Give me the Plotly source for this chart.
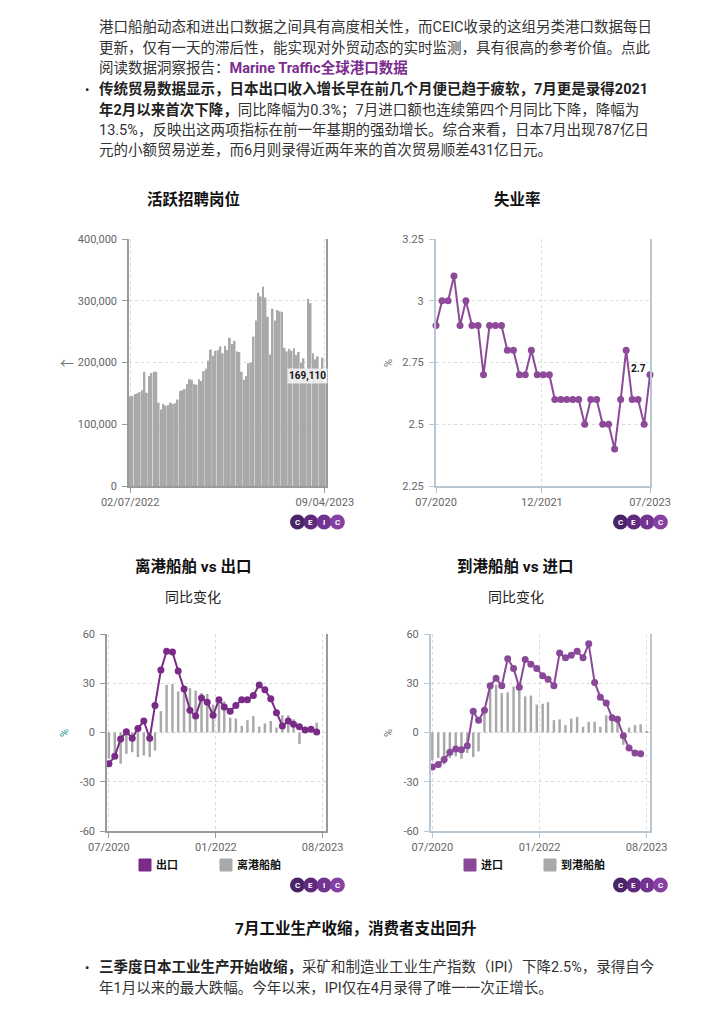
import plotly.graph_objects as go
import pandas as pd

W, H = 724, 1024


def px(x):
    return x / W


def py(y):
    return 1 - y / H


# ---------------- data ----------------
job_weeks = pd.date_range("2022-02-07", periods=83, freq="7D")
job_postings = [
    145000, 146000, 149000, 150000, 152000, 155000, 185000, 151000, 178000, 183000,
    185000, 185000, 135000, 124000, 133000, 130000, 131000, 135000, 133000, 134000,
    140000, 154000, 155000, 157000, 165000, 173000, 172000, 165000, 164000, 173000,
    170000, 186000, 190000, 203000, 221000, 211000, 219000, 220000, 226000, 215000,
    227000, 220000, 240000, 230000, 235000, 218000, 217000, 185000, 172000, 178000,
    199000, 200000, 242000, 268000, 313000, 307000, 323000, 305000, 274000, 213000,
    287000, 268000, 285000, 283000, 282000, 224000, 218000, 222000, 219000, 223000,
    212000, 217000, 200000, 207000, 190000, 303000, 296000, 215000, 205000, 210000,
    190000, 208000, 169110,
]
job_ticks = ["02/07/2022", "09/04/2023"]

months = pd.date_range("2020-07-01", periods=37, freq="MS")
months_ext = pd.date_range("2020-07-01", periods=38, freq="MS")
unemployment = [
    2.9, 3.0, 3.0, 3.1, 2.9, 3.0, 2.9, 2.9, 2.7, 2.9, 2.9, 2.9, 2.8, 2.8, 2.7, 2.7,
    2.8, 2.7, 2.7, 2.7, 2.6, 2.6, 2.6, 2.6, 2.6, 2.5, 2.6, 2.6, 2.5, 2.5, 2.4, 2.6,
    2.8, 2.6, 2.6, 2.5, 2.7,
]
unemp_ticks = ["07/2020", "12/2021", "07/2023"]

exports = [
    -19, -14.5, -4, 0.5, -3.5, 2.5, 7, -3.5, 16.5, 38, 49.5, 49, 37.5, 26.5, 13.5,
    10, 21, 18.5, 10.5, 20, 15.5, 13, 16.5, 20, 20, 22.5, 29, 26, 20.5, 12, 4, 7,
    5, 3.5, 1.5, 2, 0.3,
]
departures = [
    -16, -15, -19, -13, -12, -15, -14, -15, -11, 13, 29, 29.5, 25, 26, 27, 25.5,
    24, 23.5, 17, 20, 19, 9, 8.5, 4, 7.5, 10, 3.5, 5.5, 7, 3, 10.5, 10.5, 8, -7,
    3.5, 3.5, 6,
]
imports = [
    -21, -19.5, -16.5, -12, -10, -10.5, -8, 13, 7.5, 13.5, 28.5, 33, 28.5, 45, 39,
    27.5, 44.5, 41.5, 39, 34.5, 32.5, 28.5, 48.5, 45.5, 47, 49.5, 45.5, 54, 30.5,
    21.5, 18, 9, 8, -2, -9.5, -12.5, -13,
]
arrivals = [
    -17, -15.5, -19.5, -15.5, -14.5, -16, -12.5, -15, -11.5, 12, 26.5, 29, 24, 24.5,
    28, 26, 22, 22.5, 17, 17.5, 18.5, 7.5, 8, 4.5, 8.5, 9.5, 3.5, 6.5, 6.5, 3.5,
    10.5, 10, 9, -7.5, 3, 4.5, 5, 0.7,
]
trade_ticks = ["07/2020", "01/2022", "08/2023"]

# ---------------- styles ----------------
FONT = "Roboto, 'Noto Sans CJK SC', sans-serif"
TEXT = "#333333"
BODY = 14.5
GREY_BAR = "#a9a9a9"
PURPLE_U = "#8c4a98"
PURPLE_X = "#7a2a87"
PURPLE_M = "#8a4899"
DAY = 86400000

fig = go.Figure()

fig.add_trace(go.Bar(x=job_weeks, y=job_postings, xaxis="x", yaxis="y",
                     marker=dict(color=GREY_BAR, line=dict(width=0)),
                     width=DAY * 7 * 0.78, showlegend=False))
fig.add_trace(go.Scatter(x=months, y=unemployment, xaxis="x2", yaxis="y2",
                         mode="lines+markers", cliponaxis=False,
                         line=dict(color=PURPLE_U, width=2),
                         marker=dict(color=PURPLE_U, size=7), showlegend=False))
fig.add_trace(go.Bar(x=months, y=departures, xaxis="x3", yaxis="y3",
                     marker=dict(color=GREY_BAR, line=dict(width=0)),
                     width=DAY * 13, showlegend=False))
fig.add_trace(go.Scatter(x=months, y=exports, xaxis="x3", yaxis="y3",
                         mode="lines+markers", cliponaxis=False,
                         line=dict(color=PURPLE_X, width=2),
                         marker=dict(color=PURPLE_X, size=7), showlegend=False))
fig.add_trace(go.Bar(x=months_ext, y=arrivals, xaxis="x4", yaxis="y4",
                     marker=dict(color=GREY_BAR, line=dict(width=0)),
                     width=DAY * 13, showlegend=False))
fig.add_trace(go.Scatter(x=months, y=imports, xaxis="x4", yaxis="y4",
                         mode="lines+markers", cliponaxis=False,
                         line=dict(color=PURPLE_M, width=2),
                         marker=dict(color=PURPLE_M, size=7), showlegend=False))

tickfont = dict(family=FONT, size=11, color="#666666")
grid = dict(showgrid=True, gridcolor="#dadada", griddash="dot", gridwidth=1)


def xax(domain, anchor, rng, tickvals, ticktext, linecolor, lw):
    return dict(domain=domain, anchor=anchor, type="date", range=rng,
                tickvals=tickvals, ticktext=ticktext, tickfont=tickfont,
                showline=True, linecolor=linecolor, linewidth=lw,
                ticks="outside", ticklen=5, tickcolor=linecolor,
                zeroline=False, fixedrange=True, automargin=False, **grid)


def yax(domain, anchor, rng, tickvals, ticktext, linecolor, lw):
    return dict(domain=domain, anchor=anchor, range=rng, tickvals=tickvals,
                ticktext=ticktext, tickfont=tickfont, showline=True, mirror=True,
                linecolor=linecolor, linewidth=lw, ticks="outside", ticklen=5,
                tickcolor=linecolor, ticklabelstandoff=3, zeroline=False,
                fixedrange=True, automargin=False, **grid)


half_week = pd.Timedelta(days=3.5)
top_dom = [py(486), py(239)]
bot_dom = [py(831), py(634)]
BLUEGREY = "#b9c7d2"
AXGREY = "#9a9a9a"

layout_axes = dict(
    xaxis=xax([px(129), px(326)], "y",
              [job_weeks[0] - half_week, job_weeks[-1] + half_week],
              [job_weeks[0], job_weeks[-1]], job_ticks, AXGREY, 1.5),
    yaxis=yax(top_dom, "x", [0, 400000], [0, 100000, 200000, 300000, 400000],
              ["0", "100,000", "200,000", "300,000", "400,000"], AXGREY, 1.5),
    xaxis2=xax([px(436), px(650)], "y2", [months[0], months[-1]],
               [months[0], "2021-12-25", months[-1]], unemp_ticks, BLUEGREY, 2),
    yaxis2=yax(top_dom, "x2", [2.25, 3.25], [2.25, 2.5, 2.75, 3, 3.25],
               ["2.25", "2.5", "2.75", "3", "3.25"], BLUEGREY, 2),
    xaxis3=xax([px(107), px(326)], "y3", ["2020-06-21", "2023-08-19"],
               ["2020-07-01", "2022-01-16", "2023-08-01"], trade_ticks, AXGREY, 1.5),
    yaxis3=yax(bot_dom, "x3", [-60, 60], [-60, -30, 0, 30, 60],
               ["-60", "-30", "0", "30", "60"], AXGREY, 1.5),
    xaxis4=xax([px(431), px(650)], "y4", ["2020-06-24", "2023-08-19"],
               ["2020-07-01", "2022-01-16", "2023-08-01"], trade_ticks, BLUEGREY, 2),
    yaxis4=yax(bot_dom, "x4", [-60, 60], [-60, -30, 0, 30, 60],
               ["-60", "-30", "0", "30", "60"], BLUEGREY, 2),
)

ann = []


def text(x, y, s, size=BODY, color=TEXT, anchor="left", bold=False, angle=0):
    if bold:
        s = "<b>" + s + "</b>"
    ann.append(dict(x=px(x), y=py(y), xref="paper", yref="paper", text=s,
                    showarrow=False, xanchor=anchor, yanchor="middle",
                    textangle=angle,
                    font=dict(family=FONT, size=size, color=color)))


LINK = "#7b2d8e"
text(97, 27, "港口船舶动态和进出口数据之间具有高度相关性，而CEIC收录的这组另类港口数据每日")
text(97, 48, "更新，仅有一天的滞后性，能实现对外贸动态的实时监测，具有很高的参考价值。点此")
text(97, 68, "阅读数据洞察报告：<b><span style='color:%s'>Marine Traffic全球港口数据</span></b>" % LINK)
text(83, 89, "•", size=13, color="#222")
text(97, 89, "<b>传统贸易数据显示，日本出口收入增长早在前几个月便已趋于疲软，7月更是录得2021</b>", color="#222")
text(97, 110, "<b><span style='color:#222'>年2月以来首次下降，</span></b>同比降幅为0.3%；7月进口额也连续第四个月同比下降，降幅为")
text(97, 130, "13.5%，反映出这两项指标在前一年基期的强劲增长。综合来看，日本7月出现787亿日")
text(97, 150, "元的小额贸易逆差，而6月则录得近两年来的首次贸易顺差431亿日元。")

text(355, 928, "7月工业生产收缩，消费者支出回升", size=15.5, color="#111", anchor="center", bold=True)
text(83, 967, "•", size=13, color="#222")
text(97, 967, "<b><span style='color:#222'>三季度日本工业生产开始收缩，</span></b>采矿和制造业工业生产指数（IPI）下降2.5%，录得自今")
text(97, 988, "年1月以来的最大跌幅。今年以来，IPI仅在4月录得了唯一一次正增长。")

# chart titles
text(193, 199, "活跃招聘岗位", size=15.5, color="#111", anchor="center", bold=True)
text(517, 199, "失业率", size=15.5, color="#111", anchor="center", bold=True)
text(193, 566, "离港船舶 vs 出口", size=15.5, color="#111", anchor="center", bold=True)
text(193, 597, "同比变化", size=14, color="#222", anchor="center")
text(515, 566, "到港船舶 vs 进口", size=15.5, color="#111", anchor="center", bold=True)
text(516, 597, "同比变化", size=14, color="#222", anchor="center")

# axis titles
text(67, 363, "←", size=14, color="#777", anchor="center")
text(388, 363, "%", size=11, color="#777", anchor="center", angle=-90)
text(64, 733, "%", size=11, color="#1a9ea0", anchor="center", angle=-90)
text(388, 733, "%", size=11, color="#777", anchor="center", angle=-90)

# last-value labels
ann.append(dict(x=job_weeks[-1], y=job_postings[-1], xref="x", yref="y",
                text="<b>169,110</b>", showarrow=False, xanchor="right",
                yanchor="middle", xshift=3, yshift=6, bgcolor="rgba(255,255,255,0.75)",
                font=dict(family=FONT, size=10, color="#111")))
ann.append(dict(x=months[-1], y=unemployment[-1], xref="x2", yref="y2",
                text="<b>2.7</b>", showarrow=False, xanchor="right",
                yanchor="middle", xshift=-2, yshift=6,
                font=dict(family=FONT, size=10, color="#111")))

shapes = []


def legend_item(x0, label, color):
    shapes.append(dict(type="rect", xref="paper", yref="paper",
                       x0=px(x0), x1=px(x0 + 12), y0=py(871), y1=py(859),
                       fillcolor=color, line=dict(color=color, width=1)))
    text(x0 + 15, 865, label, size=11, color="#111", bold=True)


legend_item(139, "出口", PURPLE_X)
legend_item(220, "离港船舶", GREY_BAR)
legend_item(464, "进口", PURPLE_M)
legend_item(544, "到港船舶", GREY_BAR)

# CEIC logos
logo_colors = ["#4a2468", "#5f2a7d", "#733391", "#8641a2"]
for (lx, ly) in [(290, 522), (613, 522), (290, 885), (613, 885)]:
    for i, (c, letter) in enumerate(zip(logo_colors, ["C", "E", "I", "C"])):
        cx = lx + 7.5 + i * 13.3
        shapes.append(dict(type="circle", xref="paper", yref="paper",
                           x0=px(cx - 7.5), x1=px(cx + 7.5),
                           y0=py(ly + 7.5), y1=py(ly - 7.5),
                           fillcolor=c, line=dict(width=0)))
        ann.append(dict(x=px(cx), y=py(ly), xref="paper", yref="paper",
                        text="<b>%s</b>" % letter, showarrow=False,
                        xanchor="center", yanchor="middle",
                        font=dict(family=FONT, size=8, color="white")))

fig.update_layout(
    template="none",
    width=W, height=H, autosize=False,
    margin=dict(l=0, r=0, t=0, b=0, pad=0, autoexpand=False),
    paper_bgcolor="white", plot_bgcolor="white",
    font=dict(family=FONT, color=TEXT),
    showlegend=False, bargap=0.2,
    annotations=ann, shapes=shapes,
    **layout_axes,
)

fig.write_html("out.html", config={"displayModeBar": False},
               post_script="document.body.style.margin='0';document.body.style.overflow='hidden';")
